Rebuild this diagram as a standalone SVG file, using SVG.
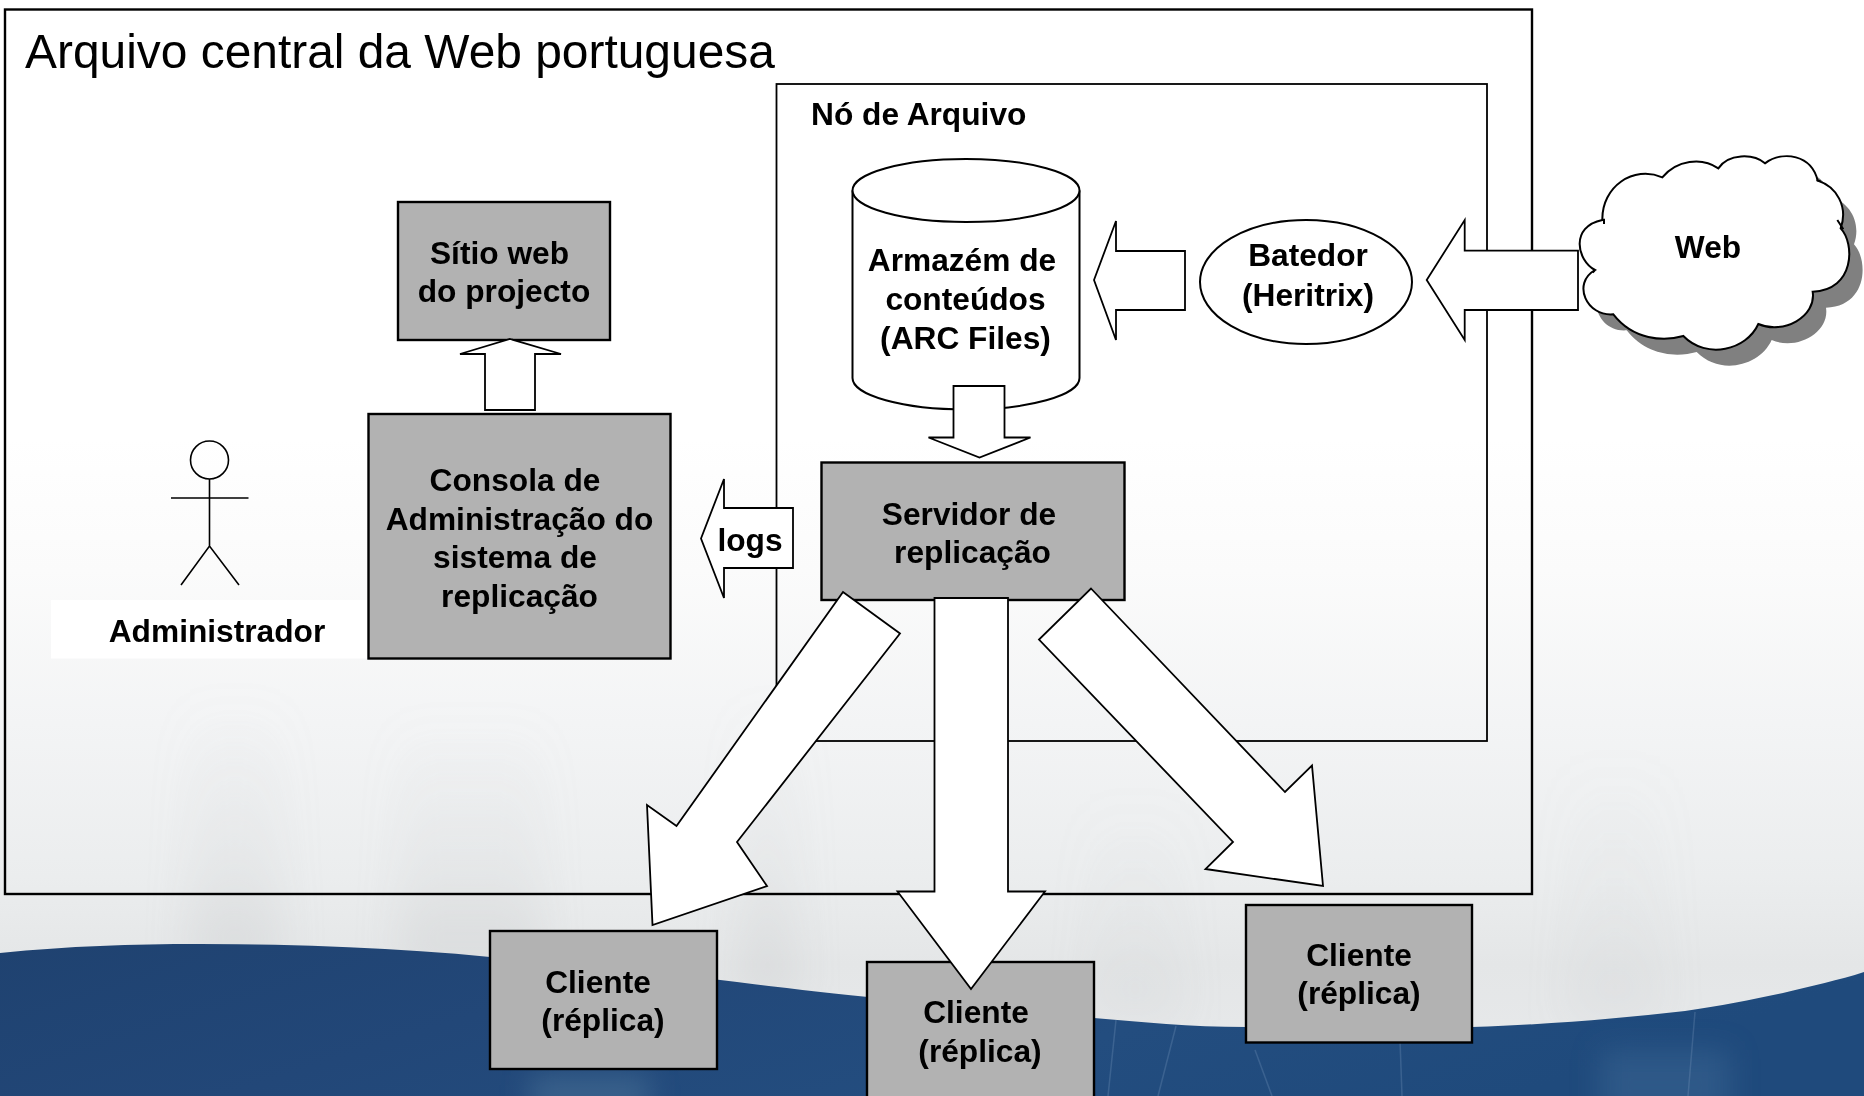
<svg xmlns="http://www.w3.org/2000/svg" width="1864" height="1096" viewBox="0 0 1864 1096">
<style>
text{font-family:"Liberation Sans",Arial,sans-serif;fill:#000}
.b{font-weight:bold;font-size:31.7px;text-anchor:middle}
.box{fill:#b2b2b2;stroke:#000;stroke-width:2.4}
.arrow{fill:#fff;stroke:#000;stroke-width:1.8;stroke-linejoin:miter}
.frame{fill:none;stroke:#000}
.line{fill:none;stroke:#000;stroke-width:1.6}
</style>
<defs>
<linearGradient id="sky" x1="0" y1="0" x2="0" y2="1">
<stop offset="0" stop-color="#fff"/><stop offset=".4" stop-color="#fff"/><stop offset=".52" stop-color="#fbfbfb"/><stop offset=".66" stop-color="#f3f4f5"/><stop offset=".8" stop-color="#ebedee"/><stop offset=".88" stop-color="#e4e6e7"/><stop offset="1" stop-color="#e8eaec"/>
</linearGradient>
<linearGradient id="sea" x1="0" y1="0" x2="1" y2="0.25">
<stop offset="0" stop-color="#1f4270"/><stop offset=".35" stop-color="#224778"/><stop offset=".7" stop-color="#234d7f"/><stop offset="1" stop-color="#1f4a7c"/>
</linearGradient>
<linearGradient id="fade" x1="0" y1="0" x2="0" y2="1">
<stop offset="0" stop-color="#c8cbcd" stop-opacity="0"/><stop offset=".6" stop-color="#c8cbcd" stop-opacity=".16"/><stop offset="1" stop-color="#c8cbcd" stop-opacity=".4"/>
</linearGradient>
<filter id="soft" x="-100%" y="-20%" width="300%" height="140%"><feGaussianBlur stdDeviation="20"/></filter>
<filter id="softer" x="-60%" y="-60%" width="220%" height="220%"><feGaussianBlur stdDeviation="14"/></filter>
<path id="cloud" d="M607,300 C605,200 700,135 787,172 C830,120 905,110 955,145 C985,100 1060,100 1095,130 C1150,90 1235,105 1253,182 C1310,200 1345,260 1322,325 C1365,370 1365,510 1238,515 C1250,590 1150,645 1075,612 C1040,690 920,720 850,648 C790,665 700,660 640,583 C560,590 515,490 585,450 C530,420 510,320 607,300 Z"/>
</defs>
<g id="background">
<rect width="1864" height="1096" fill="url(#sky)"/>
<g filter="url(#soft)">
<rect x="190" y="700" width="90" height="270" fill="url(#fade)"/>
<rect x="400" y="720" width="140" height="250" fill="url(#fade)"/>
<rect x="740" y="700" width="55" height="300" fill="url(#fade)"/>
<rect x="1090" y="800" width="90" height="220" fill="url(#fade)" opacity=".5"/>
<rect x="1570" y="760" width="90" height="260" fill="url(#fade)" opacity=".5"/>
</g>
<path d="M0,953 C70,946 130,944 200,944 C300,944 400,948 490,957 C570,965 660,972 737,982 C785,988 820,992 868,997 C950,1006 1030,1015 1094,1018 C1140,1022 1190,1027 1246,1027 C1320,1030 1400,1031 1472,1027 C1560,1024 1620,1018 1685,1011 C1720,1006 1750,1000 1783,993 C1810,986 1840,980 1864,972 L1864,1096 L0,1096 Z" fill="url(#sea)"/>
<g filter="url(#softer)" opacity=".55">
<rect x="530" y="1075" width="120" height="40" fill="#4d7499"/>
<rect x="1600" y="1050" width="130" height="70" fill="#3a6592"/>
</g>
<g stroke="#7d9cc0" fill="none" opacity=".28" stroke-width="1.5">
<path d="M1176,1026 L1158,1096"/><path d="M1255,1050 L1272,1096"/><path d="M1400,1040 L1402,1096"/><path d="M1695,1012 L1688,1096"/><path d="M1116,1020 L1108,1096"/>
</g>
</g>
<g id="arquivo-central">
<rect class="frame" x="5" y="9.5" width="1527" height="884.5" stroke-width="2.4"/>
<text x="25" y="68" font-size="47.9">Arquivo central da Web portuguesa</text>
</g>
<g id="no-de-arquivo">
<rect class="frame" x="776.5" y="84" width="710.5" height="657" stroke-width="1.8"/>
<text x="811" y="125" font-size="31.7" font-weight="bold">Nó de Arquivo</text>
</g>
<g id="administrador">
<rect x="51" y="600" width="318" height="58.5" fill="#fff"/>
<circle class="line" cx="209.5" cy="460" r="19"/>
<path class="line" d="M209.5,479 V546 M171,498 H248.5 M181,585 L209.5,546 L239,585"/>
<text class="b" x="217" y="642">Administrador</text>
</g>
<g id="sitio-web">
<rect class="box" x="398" y="202" width="212" height="138"/>
<text class="b" x="499.5" y="264">Sítio web</text>
<text class="b" x="504" y="302">do projecto</text>
</g>
<g id="consola">
<rect class="box" x="368.5" y="414" width="302" height="244.5"/>
<text class="b" x="515" y="491">Consola de</text>
<text class="b" x="519.5" y="529.5">Administração do</text>
<text class="b" x="515" y="568">sistema de</text>
<text class="b" x="519.5" y="606.5">replicação</text>
</g>
<g id="armazem">
<path d="M852.5,190.5 V378 A113.5,31.5 0 0 0 1079.5,378 V190.5" fill="#fff" stroke="#000" stroke-width="2"/>
<ellipse cx="966" cy="190.5" rx="113.5" ry="31.5" fill="#fff" stroke="#000" stroke-width="2"/>
<text class="b" x="962" y="271">Armazém de</text>
<text class="b" x="965.5" y="310">conteúdos</text>
<text class="b" x="965.5" y="348.5">(ARC Files)</text>
</g>
<g id="batedor">
<ellipse cx="1306" cy="282" rx="106" ry="62" fill="#fff" stroke="#000" stroke-width="2"/>
<text class="b" x="1308" y="266">Batedor</text>
<text class="b" x="1308" y="305.5">(Heritrix)</text>
</g>
<g id="web">
<g transform="translate(1400,120) scale(.33333)">
<use href="#cloud" x="40" y="48" fill="#808080"/>
<use href="#cloud" fill="#fff" stroke="#000" stroke-width="6"/>
<path d="M585,450 L578,458 M612,296 L612,312 M1312,300 L1330,328 M1250,180 L1262,184" stroke="#000" stroke-width="6" fill="none"/>
</g>
<text class="b" x="1708" y="258">Web</text>
</g>
<g id="servidor">
<rect class="box" x="821.5" y="462.5" width="303" height="137.5"/>
<text class="b" x="969" y="524.5">Servidor de</text>
<text class="b" x="972.5" y="562.5">replicação</text>
</g>
<g id="cliente-1">
<rect class="box" x="490" y="931" width="227" height="138"/>
<text class="b" x="598" y="992.5">Cliente</text>
<text class="b" x="603" y="1031">(réplica)</text>
</g>
<g id="cliente-2">
<rect class="box" x="867" y="962" width="227" height="140"/>
<text class="b" x="976" y="1022.5">Cliente</text>
<text class="b" x="980" y="1061.5">(réplica)</text>
</g>
<g id="cliente-3">
<rect class="box" x="1246" y="905" width="226" height="137.5"/>
<text class="b" x="1359" y="965.5">Cliente</text>
<text class="b" x="1359" y="1003.5">(réplica)</text>
</g>
<g id="connectors">
<polygon class="arrow" points="510,339 561,354 535,354 535,410 485,410 485,354 460,354"/>
<polygon class="arrow" points="953.5,386 1004.5,386 1004.5,437.5 1030.5,437.5 979.5,457.5 928.5,437.5 953.5,437.5"/>
<polygon class="arrow" points="1094,280 1116,221 1116,251 1185,251 1185,310 1116,310 1116,340"/>
<polygon class="arrow" points="1426.7,280 1464.7,220 1464.7,250.7 1578,250.7 1578,310 1464.7,310 1464.7,340"/>
<polygon class="arrow" points="701,538.5 724,479 724,508 793,508 793,568 724,568 724,598"/>
<polygon class="arrow" points="843,592 900,633.5 737,842 767,886 652.5,925 647,805 676.5,826"/>
<polygon class="arrow" points="934.5,598 1008,598 1008,891.5 1045,891.5 971,989 897.5,891.5 934.5,891.5"/>
<polygon class="arrow" points="1091,588.5 1285,792 1312,765.5 1323,886 1205.5,869 1233,842 1039,639.5"/>
</g>
<g id="connector-label">
<text class="b" x="750" y="550.5">logs</text>
</g>
</svg>
